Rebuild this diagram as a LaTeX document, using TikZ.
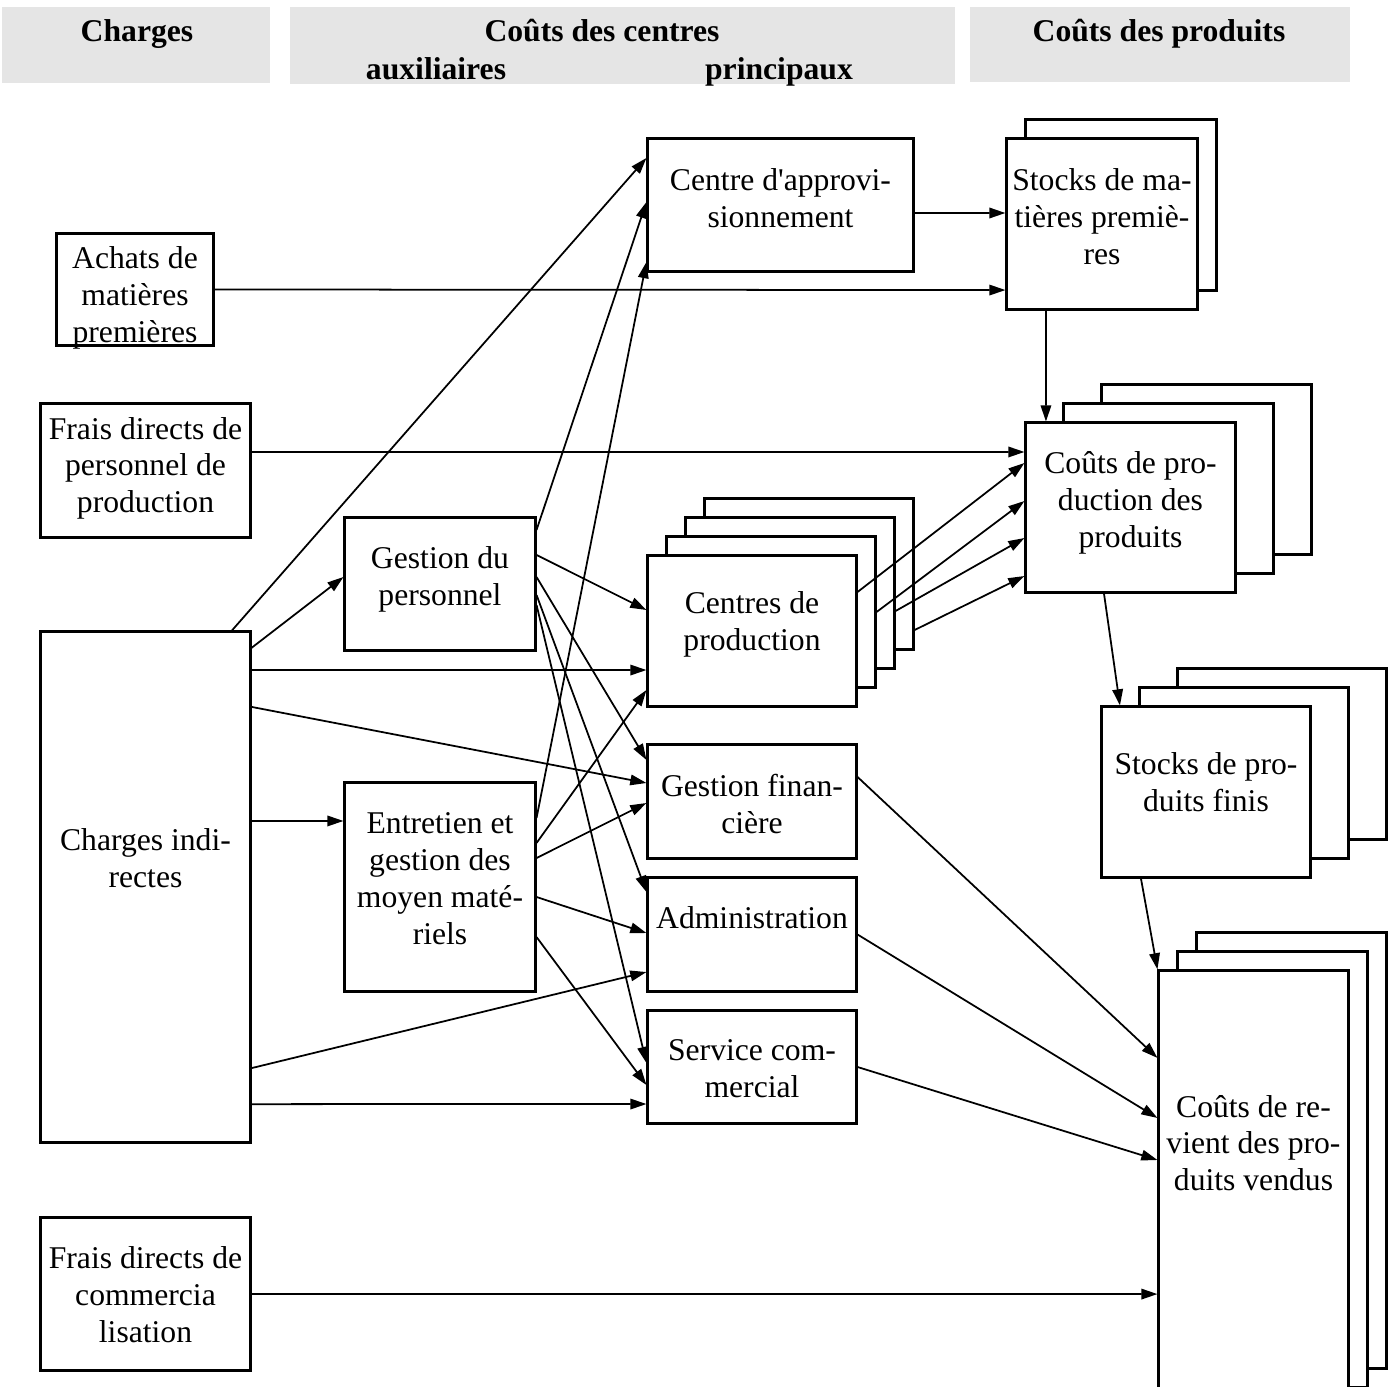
\documentclass[tikz,border=0pt]{standalone}
\usepackage{fontspec}
\setmainfont{Liberation Serif}[Ligatures=TeXOff]
\usetikzlibrary{arrows.meta}

\tikzset{
  box/.style={draw, line width=0.85pt, fill=white, inner sep=0pt},
  txt/.style={align=center, inner sep=0pt, font=\fontsize{9}{10.5}\selectfont,
    execute at begin node=\strut, execute at end node=\strut},
  head/.style={fill=gray!20, inner sep=0pt},
  headtxt/.style={inner sep=0pt, text height=6.8pt, text depth=0pt,
    font=\fontsize{9}{10.5}\selectfont\bfseries},
  arr/.style={-{Triangle[length=4.6pt,width=3pt]}, line width=0.5pt},
}

\begin{document}
\begin{tikzpicture}[x=0.01cm, y=-0.01cm]
      \useasboundingbox (0,0) rectangle (1396,1387);
      % headers
      \node[head, minimum width=2.68cm, minimum height=0.75cm] (hcharges) at (136,45) {};
      \node[head, minimum width=6.65cm, minimum height=0.76cm] (hcentres) at (622.5,45.5) {};
      \node[head, minimum width=3.80cm, minimum height=0.74cm] (hproduits) at (1160,44.5) {};
      \node[headtxt] (tcharges) at (137,30) {Charges};
      \node[headtxt] (tcentres) at (602,30) {Coûts des centres};
      \node[headtxt] (taux) at (436,68) {auxiliaires};
      \node[headtxt] (tprinc) at (779,68) {principaux};
      \node[headtxt] (tproduits) at (1159,30) {Coûts des produits};

      % charges
      \node[box, minimum width=1.56cm, minimum height=1.11cm] (achats) at (135,289.5) {};
      \node[txt] (achatstxt) at (135,300) {Achats de\\matières\\premières};
      \node[box, minimum width=2.09cm, minimum height=1.33cm] (fdpers) at (145.5,470.5) {};
      \node[txt] (fdperstxt) at (145.5,470.5) {Frais directs de\\personnel de\\production};
      \node[box, minimum width=2.09cm, minimum height=5.10cm] (chind) at (145.5,887) {};
      \node[txt] (chindtxt) at (145.5,864) {Charges indi-\\rectes};
      \node[box, minimum width=2.09cm, minimum height=1.52cm] (fdcom) at (145.5,1294) {};
      \node[txt] (fdcomtxt) at (145.5,1300) {Frais directs de\\commercia\\lisation};

      % centres auxiliaires
      \node[box, minimum width=1.90cm, minimum height=1.32cm] (gestpers) at (440,584) {};
      \node[txt] (gestperstxt) at (440,581.5) {Gestion du\\personnel};
      \node[box, minimum width=1.90cm, minimum height=2.08cm] (entretien) at (440,887) {};
      \node[txt] (entretientxt) at (440,884) {Entretien et\\gestion des\\moyen maté-\\riels};

      % centres principaux
      \node[box, minimum width=2.65cm, minimum height=1.32cm] (appro) at (780.5,205) {};
      \node[txt] (approtxt) at (780.5,203.5) {Centre d'approvi-\\sionnement};
      \node[box, minimum width=2.08cm, minimum height=1.50cm] (cprodd) at (809,574) {};
      \node[box, minimum width=2.08cm, minimum height=1.50cm] (cprodc) at (790,593) {};
      \node[box, minimum width=2.08cm, minimum height=1.50cm] (cprodb) at (771,612) {};
      \node[box, minimum width=2.08cm, minimum height=1.50cm] (cprod) at (752,631) {};
      \node[txt] (cprodtxt) at (752,627) {Centres de\\production};
      \node[box, minimum width=2.08cm, minimum height=1.13cm] (gfin) at (752,801.5) {};
      \node[txt] (gfintxt) at (752,809) {Gestion finan-\\cière};
      \node[box, minimum width=2.08cm, minimum height=1.13cm] (admin) at (752,934.5) {};
      \node[txt] (admintxt) at (752,921) {Administration};
      \node[box, minimum width=2.08cm, minimum height=1.12cm] (scom) at (752,1067) {};
      \node[txt] (scomtxt) at (752,1074) {Service com-\\mercial};

      % produits
      \node[box, minimum width=1.90cm, minimum height=1.70cm] (smpb) at (1121,205) {};
      \node[box, minimum width=1.90cm, minimum height=1.70cm] (smp) at (1102,224) {};
      \node[txt] (smptxt) at (1102,222) {Stocks de ma-\\tières premiè-\\res};
      \node[box, minimum width=2.09cm, minimum height=1.69cm] (cppc) at (1206.5,469.5) {};
      \node[box, minimum width=2.09cm, minimum height=1.69cm] (cppb) at (1168.5,488.5) {};
      \node[box, minimum width=2.09cm, minimum height=1.69cm] (cpp) at (1130.5,507.5) {};
      \node[txt] (cpptxt) at (1130.5,505) {Coûts de pro-\\duction des\\produits};
      \node[box, minimum width=2.08cm, minimum height=1.70cm] (spfc) at (1282,754) {};
      \node[box, minimum width=2.08cm, minimum height=1.70cm] (spfb) at (1244,773) {};
      \node[box, minimum width=2.08cm, minimum height=1.70cm] (spf) at (1206,792) {};
      \node[txt] (spftxt) at (1206,788) {Stocks de pro-\\duits finis};
      \node[box, minimum width=1.89cm, minimum height=4.35cm] (crpvc) at (1291.5,1150.5) {};
      \node[box, minimum width=1.89cm, minimum height=4.35cm] (crpvb) at (1272.5,1169.5) {};
      \node[box, minimum width=1.89cm, minimum height=4.35cm] (crpv) at (1253.5,1188.5) {};
      \node[txt] (crpvtxt) at (1253.5,1148.5) {Coûts de re-\\vient des pro-\\duits vendus};

      % flux directs
      \path[arr] (achats.east) edge ([yshift=-6.6mm]smp.west)
      ([yshift=-0.8mm]appro.east) edge ([yshift=1.1mm]smp.west)
      ([xshift=-5.6mm]smp.south) edge ([xshift=-8.45mm]cpp.north)
      ([yshift=1.85mm]fdpers.east) edge ([yshift=5.55mm]cpp.west)
      (fdcom.east) edge ([yshift=-10.55mm]crpv.west)
      ;
      % charges indirectes
      \path[arr] ([xshift=8.65mm]chind.north) edge ([yshift=4.7mm]appro.west)
      ([yshift=23.9mm]chind.east) edge ([yshift=0.7mm]gestpers.west)
      ([yshift=21.7mm]chind.east) edge ([yshift=-3.9mm]cprod.west)
      ([yshift=18mm]chind.east) edge ([yshift=1.85mm]gfin.west)
      ([yshift=6.6mm]chind.east) edge ([yshift=6.6mm]entretien.west)
      ([yshift=-18.1mm]chind.east) edge ([yshift=-3.75mm]admin.west)
      ([yshift=-21.7mm]chind.east) edge ([yshift=-3.7mm]scom.west)
      ;
      % centres auxiliaires
      \path[arr] ([yshift=5.4mm]gestpers.east) edge ([yshift=0.3mm]appro.west)
      ([yshift=2.9mm]gestpers.east) edge ([yshift=2.1mm]cprod.west)
      ([yshift=0.7mm]gestpers.east) edge ([yshift=4.15mm]gfin.west)
      ([yshift=-1.1mm]gestpers.east) edge ([yshift=4.25mm]admin.west)
      ([yshift=-2.1mm]gestpers.east) edge ([yshift=0.4mm]scom.west)
      ([yshift=6.9mm]entretien.east) edge ([yshift=-5.7mm]appro.west)
      ([yshift=4.4mm]entretien.east) edge ([yshift=-5.9mm]cprod.west)
      ([yshift=2.9mm]entretien.east) edge ([yshift=-0.15mm]gfin.west)
      ([yshift=-1mm]entretien.east) edge ([yshift=0.15mm]admin.west)
      ([yshift=-5mm]entretien.east) edge ([yshift=-1.8mm]scom.west)
      ;
      % vers les produits
      \path[arr] ([yshift=3.9mm]cprod.east) edge ([yshift=4.45mm]cpp.west)
      (cprodb.east) edge ([yshift=0.65mm]cpp.west)
      ([yshift=-1.8mm]cprodc.east) edge ([yshift=-3.05mm]cpp.west)
      ([yshift=-5.6mm]cprodd.east) edge ([yshift=-6.85mm]cpp.west)
      ([xshift=-2.65mm]cpp.south) edge ([xshift=-8.6mm]spf.north)
      ([xshift=-6.5mm]spf.south) edge (crpv.north west)
      ([yshift=2.45mm]gfin.east) edge ([yshift=13.05mm]crpv.west)
      (admin.east) edge ([yshift=7.05mm]crpv.west)
      (scom.east) edge ([yshift=2.85mm]crpv.west)
      ;
\end{tikzpicture}
\end{document}
